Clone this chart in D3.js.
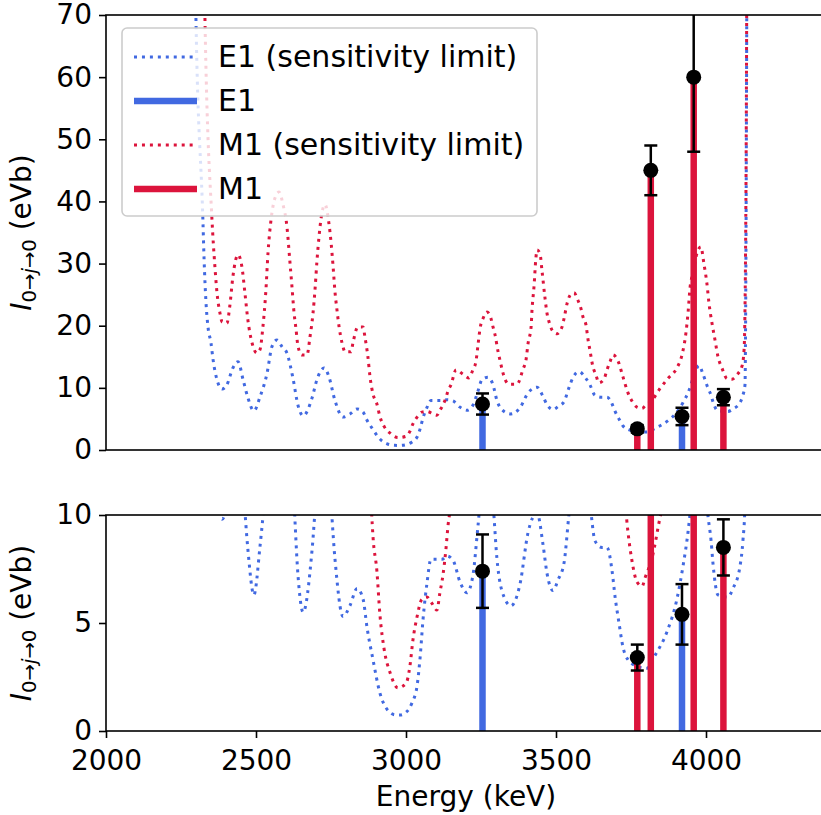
<!DOCTYPE html>
<html>
<head>
<meta charset="utf-8">
<script src="https://cdn.jsdelivr.net/npm/d3@7"></script>
<style>
  body { margin: 0; background: #fff; }
  svg { font-family: 'DejaVu Sans', sans-serif; }
</style>
</head>
<body>
<svg id="chart"></svg>
<script>
// Sensitivity limits (energy in keV, value in eVb)
const e1LimitEnergy = [2293, 2300, 2323, 2327, 2333, 2340, 2350, 2357, 2370, 2387, 2403, 2423, 2440, 2457, 2473, 2493, 2513, 2537, 2553, 2570, 2587, 2603, 2623, 2640, 2657, 2687, 2703, 2727, 2743, 2763, 2790, 2813, 2837, 2857, 2870, 2890, 2913, 2937, 2963, 2980, 3003, 3020, 3037, 3047, 3057, 3070, 3083, 3120, 3137, 3157, 3180, 3203, 3223, 3240, 3253, 3273, 3290, 3303, 3327, 3350, 3380, 3407, 3437, 3457, 3470, 3490, 3507, 3527, 3543, 3557, 3577, 3597, 3613, 3630, 3653, 3670, 3687, 3697, 3710, 3723, 3740, 3770, 3803, 3830, 3870, 3903, 3923, 3940, 3950, 3963, 3977, 3990, 4007, 4017, 4023, 4040, 4073, 4090, 4113, 4123, 4130, 4133, 4137];
const e1LimitValue = [90, 69, 37, 30.6, 24, 19.8, 17.2, 14.5, 11.3, 9.8, 10.5, 13.2, 14.2, 11.3, 8.4, 6.3, 8.5, 12.4, 16.6, 17.7, 16.6, 15.6, 11.6, 7.2, 5.5, 8.4, 11.3, 13.2, 11.8, 8, 5.3, 5.8, 6.6, 6.1, 4.8, 3.3, 1.76, 1.0, 0.75, 0.74, 0.9, 1.3, 2.1, 3.4, 5.2, 6.85, 7.95, 7.95, 8.1, 7.9, 6.9, 6.4, 7.2, 9.5, 11.3, 11.7, 10.5, 8.0, 6.2, 5.8, 6.8, 9.2, 10.1, 8.6, 7.3, 6.5, 7.0, 7.8, 10, 11.7, 12.6, 11.7, 10.5, 8.8, 8.5, 8.5, 7.4, 6.2, 5.0, 3.9, 3.3, 3.0, 2.9, 3.5, 4.6, 6.1, 7.6, 9.2, 10.5, 12.5, 13.6, 12.2, 9.9, 8.8, 7.8, 6.3, 6.2, 6.6, 7.6, 8.8, 10.5, 30, 90];

const m1LimitEnergy = [2323, 2330, 2353, 2363, 2370, 2380, 2387, 2403, 2413, 2423, 2440, 2453, 2463, 2473, 2487, 2503, 2513, 2523, 2533, 2540, 2550, 2563, 2577, 2590, 2603, 2613, 2620, 2627, 2633, 2640, 2653, 2670, 2680, 2690, 2697, 2703, 2710, 2717, 2730, 2743, 2750, 2757, 2763, 2770, 2777, 2787, 2797, 2817, 2823, 2840, 2857, 2863, 2873, 2880, 2890, 2903, 2913, 2927, 2947, 2973, 3000, 3013, 3023, 3037, 3053, 3070, 3087, 3103, 3113, 3123, 3133, 3140, 3150, 3167, 3190, 3210, 3223, 3233, 3240, 3247, 3257, 3270, 3283, 3290, 3297, 3307, 3313, 3327, 3343, 3370, 3390, 3400, 3407, 3417, 3420, 3427, 3433, 3437, 3447, 3453, 3463, 3470, 3477, 3487, 3503, 3520, 3527, 3537, 3550, 3560, 3573, 3583, 3590, 3600, 3607, 3613, 3623, 3633, 3643, 3660, 3670, 3680, 3690, 3707, 3723, 3740, 3753, 3770, 3787, 3797, 3820, 3847, 3873, 3903, 3920, 3933, 3940, 3947, 3957, 3970, 3983, 3993, 4003, 4010, 4020, 4030, 4040, 4053, 4070, 4087, 4103, 4120, 4127, 4133, 4137];
const m1LimitValue = [90, 69, 37.3, 29.5, 25.3, 22, 20.6, 20.4, 23.3, 27.9, 31.4, 29.5, 25.3, 20.9, 17.2, 15.6, 16.1, 19.8, 25.7, 31.7, 37, 40.5, 41.5, 39.5, 36, 30.3, 26.2, 22, 19.6, 16.7, 15.3, 15.3, 18.2, 22, 26, 30.3, 34.3, 37.3, 39.5, 36.5, 33.5, 29.5, 25.6, 22.5, 19.8, 17.2, 15.8, 15.8, 17.2, 19.8, 19.8, 18.2, 15, 11.8, 9.0, 7.4, 5.4, 3.8, 2.7, 2.0, 2.2, 3.0, 4.2, 5.3, 6.1, 6.2, 5.9, 5.6, 6.4, 7.2, 8.4, 9.5, 10.5, 12.9, 12.2, 11.6, 12.9, 14.2, 16.9, 19.6, 21.2, 22.2, 21.2, 19.8, 18.5, 15.8, 14.5, 11.8, 10.6, 10.6, 13, 14.5, 17.2, 19.8, 22.5, 26.5, 30.9, 32.2, 31.5, 29, 24.6, 22, 20.6, 19.3, 18.7, 19.8, 21.2, 23.6, 25.1, 25.3, 24.1, 22.8, 21.4, 20.1, 17.7, 16.1, 13.4, 12.1, 10.8, 11.4, 12.9, 14.2, 15.3, 14.3, 11.8, 9.2, 7.9, 6.9, 6.7, 7.1, 8, 9.9, 11.5, 13.2, 15.3, 18.8, 22, 26.2, 28.5, 31.7, 32.7, 30, 26.8, 23.6, 20.4, 17.7, 15, 13.2, 11.5, 11.4, 12.1, 13.5, 16.2, 40, 90];

// Observed transitions
const e1Levels = [3255, 3920];
const e1Strength = [7.4, 5.4];
const e1Error = [1.7, 1.4];

const m1Levels = [3771, 3816, 3959, 4058];
const m1Strength = [3.4, 45, 60, 8.5];
const m1Error = [0.6, 4, 12, 1.3];

const xTicks = [2000, 2500, 3000, 3500, 4000];
const topYTicks = [0, 10, 20, 30, 40, 50, 60, 70];
const bottomYTicks = [0, 5, 10];
const legendLabels = ['E1 (sensitivity limit)', 'E1', 'M1 (sensitivity limit)', 'M1'];

const E1_COLOR = 'royalblue';
const M1_COLOR = 'crimson';

const width = 821, height = 815;
const svg = d3.select('#chart')
    .attr('width', width)
    .attr('height', height);

// Shared energy scale for both panels
const xScale = d3.scaleLinear()
    .domain([2000, 4400])
    .range([106, 826]);

const e1Line = e1LimitEnergy.map((e, i) => ({x: e, y: e1LimitValue[i]}));
const m1Line = m1LimitEnergy.map((e, i) => ({x: e, y: m1LimitValue[i]}));
const e1Points = e1Levels.map((e, i) => ({x: e, y: e1Strength[i], err: e1Error[i]}));
const m1Points = m1Levels.map((e, i) => ({x: e, y: m1Strength[i], err: m1Error[i]}));

function drawPanel(id, top, bottom, ymax, yTicks, showX, labelY) {
  const yScale = d3.scaleLinear()
      .domain([0, ymax])
      .range([bottom, top]);

  svg.append('clipPath')
      .attr('id', 'clip-' + id)
    .append('rect')
      .attr('x', xScale.range()[0])
      .attr('y', top)
      .attr('width', xScale.range()[1] - xScale.range()[0])
      .attr('height', bottom - top);

  const plot = svg.append('g')
      .attr('clip-path', `url(#clip-${id})`);

  const line = d3.line()
      .x(d => xScale(d.x))
      .y(d => yScale(d.y))
      .curve(d3.curveMonotoneX);

  // Dotted sensitivity limits
  [[e1Line, E1_COLOR], [m1Line, M1_COLOR]].forEach(([data, color]) => {
    plot.append('path')
        .datum(data)
        .attr('d', line)
        .attr('fill', 'none')
        .attr('stroke', color)
        .attr('stroke-width', 3)
        .attr('stroke-dasharray', '3 4.95');
  });

  // Stick bars for measured strengths
  [[e1Points, E1_COLOR], [m1Points, M1_COLOR]].forEach(([data, color]) => {
    plot.selectAll(null)
        .data(data)
      .join('line')
        .attr('x1', d => xScale(d.x))
        .attr('x2', d => xScale(d.x))
        .attr('y1', yScale(0))
        .attr('y2', d => yScale(d.y))
        .attr('stroke', color)
        .attr('stroke-width', 6.5);
  });

  // Error bars and markers
  const allPoints = e1Points.concat(m1Points);
  const eb = plot.selectAll('.errbar-' + id)
      .data(allPoints)
    .join('g')
      .attr('class', 'errbar-' + id)
      .attr('stroke', '#000')
      .attr('stroke-width', 2.5);
  eb.append('line')
      .attr('x1', d => xScale(d.x))
      .attr('x2', d => xScale(d.x))
      .attr('y1', d => yScale(d.y - d.err))
      .attr('y2', d => yScale(d.y + d.err));
  eb.append('line')
      .attr('x1', d => xScale(d.x) - 6.5)
      .attr('x2', d => xScale(d.x) + 6.5)
      .attr('y1', d => yScale(d.y - d.err))
      .attr('y2', d => yScale(d.y - d.err));
  eb.append('line')
      .attr('x1', d => xScale(d.x) - 6.5)
      .attr('x2', d => xScale(d.x) + 6.5)
      .attr('y1', d => yScale(d.y + d.err))
      .attr('y2', d => yScale(d.y + d.err));

  plot.selectAll('.dot-' + id)
      .data(allPoints)
    .join('circle')
      .attr('class', 'dot-' + id)
      .attr('cx', d => xScale(d.x))
      .attr('cy', d => yScale(d.y))
      .attr('r', 7.5)
      .attr('fill', '#000');

  // Axes
  const yAxis = d3.axisLeft(yScale)
      .tickValues(yTicks)
      .tickSize(7)
      .tickSizeOuter(0)
      .tickPadding(7);
  const yAxisG = svg.append('g')
      .attr('transform', `translate(${xScale.range()[0]},0)`)
      .call(yAxis);
  yAxisG.select('.domain').remove();
  yAxisG.selectAll('line').attr('stroke-width', 1.6);
  yAxisG.selectAll('text')
      .attr('font-family', 'DejaVu Sans')
      .attr('font-size', 28)
      .attr('fill', '#000');

  if (showX) {
    const xAxis = d3.axisBottom(xScale)
        .tickValues(xTicks)
        .tickFormat(d3.format('d'))
        .tickSize(7)
        .tickSizeOuter(0)
        .tickPadding(12);
    const xAxisG = svg.append('g')
        .attr('transform', `translate(0,${bottom})`)
        .call(xAxis);
    xAxisG.select('.domain').remove();
    xAxisG.selectAll('line').attr('stroke-width', 1.6);
    xAxisG.selectAll('text')
        .attr('font-family', 'DejaVu Sans')
        .attr('font-size', 28)
        .attr('fill', '#000');
  }

  // Frame
  svg.append('rect')
      .attr('x', xScale.range()[0])
      .attr('y', top)
      .attr('width', xScale.range()[1] - xScale.range()[0])
      .attr('height', bottom - top)
      .attr('fill', 'none')
      .attr('stroke', '#000')
      .attr('stroke-width', 1.6);

  // Y label: I_{0->j->0} (eVb)
  const label = svg.append('text')
      .attr('transform', `translate(${labelY},${(top + bottom) / 2}) rotate(-90)`)
      .attr('text-anchor', 'middle')
      .attr('font-size', 28);
  label.append('tspan').attr('font-style', 'italic').text('I');
  label.append('tspan').attr('font-size', 19.6).attr('dy', 5).text('0→');
  label.append('tspan').attr('font-size', 19.6).attr('font-style', 'italic').text('j');
  label.append('tspan').attr('font-size', 19.6).text('→0');
  label.append('tspan').attr('dy', -5).text(' (eVb)');

  return yScale;
}

drawPanel('top', 15, 450, 70, topYTicks, false, 31);
drawPanel('bottom', 515, 731, 10, bottomYTicks, true, 31);

svg.append('text')
    .attr('x', (xScale.range()[0] + xScale.range()[1]) / 2)
    .attr('y', 806)
    .attr('text-anchor', 'middle')
    .attr('font-size', 28)
    .text('Energy (keV)');

// Legend
const legend = svg.append('g');
legend.append('rect')
    .attr('x', 122)
    .attr('y', 28)
    .attr('width', 415)
    .attr('height', 188)
    .attr('rx', 5)
    .attr('fill', '#fff')
    .attr('fill-opacity', 0.8)
    .attr('stroke', '#cccccc')
    .attr('stroke-width', 1.6);

const legendRows = legend.selectAll('.legend-row')
    .data(legendLabels)
  .join('g')
    .attr('class', 'legend-row')
    .attr('transform', (d, i) => `translate(0,${57 + i * 44})`);

legendRows.append('line')
    .attr('x1', 134)
    .attr('x2', 197)
    .attr('stroke', (d, i) => i < 2 ? E1_COLOR : M1_COLOR)
    .attr('stroke-width', (d, i) => i % 2 === 0 ? 3 : 6.5)
    .attr('stroke-dasharray', (d, i) => i % 2 === 0 ? '3 4.95' : null);

legendRows.append('text')
    .attr('x', 218)
    .attr('y', 10)
    .attr('font-size', 30)
    .text(d => d);
</script>
</body>
</html>
